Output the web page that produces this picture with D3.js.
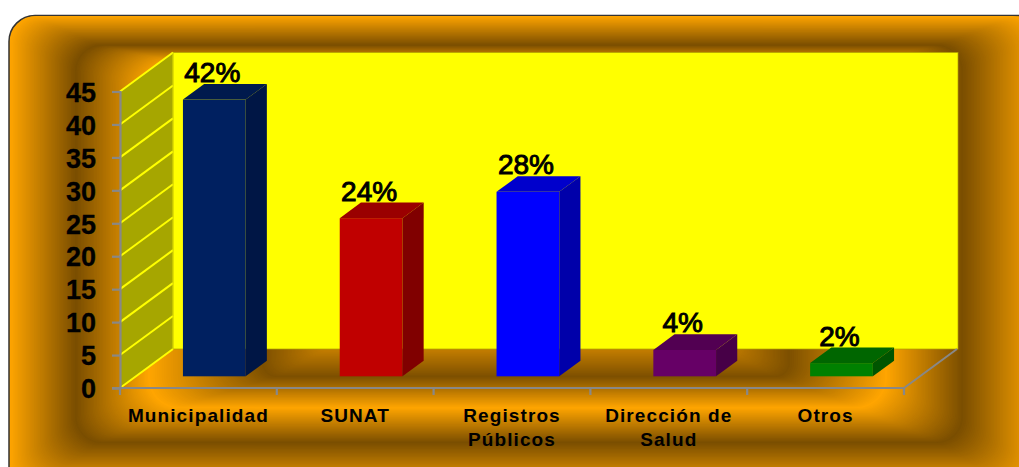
<!DOCTYPE html>
<html><head><meta charset="utf-8">
<script src="https://cdnjs.cloudflare.com/ajax/libs/d3/7.8.5/d3.min.js"></script>
<style>html,body{margin:0;background:#fff}svg{display:block}text{font-family:"Liberation Sans",Arial,sans-serif;fill:#000}</style>
</head><body><svg id="c" width="1019" height="467"></svg>
<script>
const categories = [["Municipalidad"],["SUNAT"],["Registros","Públicos"],["Dirección de","Salud"],["Otros"]];
const values = [42,24,28,4,2];
const valueLabels = ["42%","24%","28%","4%","2%"];
const frontColors = ["#002060","#c00000","#0000ff","#660066","#008000"];
const topColors   = ["#001a4d","#9a0000","#0000cc","#520052","#006600"];
const sideColors  = ["#001645","#800000","#0000aa","#470047","#005500"];
const yTicks = [0,5,10,15,20,25,30,35,40,45];

const svg = d3.select("#c");
// background bands: [x0,y0,x1,y1,radius,color]
const stops = [
  [9,15.5,1040,490,26,"#ffa500"],
  [75,45,963,443,26,"#7a4e00"],
  [148,62,887,408,30,"#ffa500"],
  [262,100,790,377,14,"#7d5000"],
  [330,150,720,345,6,"#d08600"]
];
const bg = svg.append("g");
bg.append("rect").attr("x",9).attr("y",15.5).attr("width",1040).attr("height",490).attr("rx",26)
  .attr("fill","#ffa500").attr("stroke","#333").attr("stroke-width",1.5);
for(let s=0;s<stops.length-1;s++){
  const a=stops[s],b=stops[s+1],n=50,col=d3.interpolateRgb(a[5],b[5]);
  d3.range(1,n+1).forEach(i=>{
    const t=i/n,L=d3.interpolateNumber;
    const x0=L(a[0],b[0])(t),y0=L(a[1],b[1])(t),x1=L(a[2],b[2])(t),y1=L(a[3],b[3])(t);
    bg.append("rect").attr("x",x0).attr("y",y0).attr("width",x1-x0).attr("height",y1-y0)
      .attr("rx",L(a[4],b[4])(t)).attr("fill",col(t));
  });
}

const y = d3.scaleLinear().domain([0,45]).range([388,91.5]);
const x = d3.scaleBand().domain(d3.range(categories.length)).range([120,904]).paddingInner(0).paddingOuter(0);
const dx=53, dy=-39;
const barW = x.bandwidth()*0.4;
const pt = p=>p.join(",");

// back wall
svg.append("rect").attr("x",x.range()[0]+dx).attr("y",y(45)+dy).attr("width",x.range()[1]-x.range()[0]+1)
  .attr("height",y(0)-y(45)).attr("fill","#ffff00").attr("stroke","#b0a000").attr("stroke-width",.7);
// side wall
svg.append("polygon").attr("points",[[120,y(45)],[120+dx,y(45)+dy],[120+dx,y(0)+dy],[120,y(0)]].map(pt).join(" "))
  .attr("fill","#a6a600");
yTicks.forEach(v=>{
  svg.append("line").attr("x1",120).attr("y1",y(v)).attr("x2",120+dx).attr("y2",y(v)+dy)
    .attr("stroke","#ffff00").attr("stroke-width",2);
});
svg.append("line").attr("x1",120+dx).attr("x2",120+dx).attr("y1",y(45)+dy).attr("y2",y(0)+dy).attr("stroke","#e0e000").attr("stroke-width",1);

// floor outline
svg.append("line").attr("x1",904).attr("y1",y(0)).attr("x2",904+dx).attr("y2",y(0)+dy).attr("stroke","#888").attr("stroke-width",2);

// axes
const gy = svg.append("g").attr("transform","translate(120,0)")
  .call(d3.axisLeft(y).tickValues(yTicks).tickSize(8).tickPadding(16));
gy.selectAll("text").attr("font-size",27).attr("font-weight","bold").attr("dy","0.36em").attr("stroke","#000").attr("stroke-width",.3);
gy.selectAll("line,path").attr("stroke","#888").attr("stroke-width",2.2);
const gx = svg.append("g").attr("transform","translate(0,388)");
gx.append("line").attr("x1",112).attr("x2",904).attr("stroke","#888").attr("stroke-width",2.2);
d3.range(categories.length+1).forEach(i=>{
  const xx = 120+i*x.step();
  gx.append("line").attr("x1",xx).attr("x2",xx).attr("y1",0).attr("y2",7).attr("stroke","#888").attr("stroke-width",2.2);
});

// bars
const fx = 0.3, bx = 0.7;
values.forEach((v,i)=>{
  const xl = x(i)+(x.bandwidth()-barW)/2 + dx*fx;
  const xr = xl+barW;
  const yb = y(0)+dy*fx, yt = y(v)+dy*fx;
  const ddx = dx*(bx-fx), ddy = dy*(bx-fx);
  svg.append("rect").attr("x",xl).attr("y",yt).attr("width",barW).attr("height",yb-yt).attr("fill",frontColors[i]);
  svg.append("polygon").attr("points",[[xl,yt],[xl+ddx,yt+ddy],[xr+ddx,yt+ddy],[xr,yt]].map(pt).join(" ")).attr("fill",topColors[i]);
  svg.append("polygon").attr("points",[[xr,yt],[xr+ddx,yt+ddy],[xr+ddx,yb+ddy],[xr,yb]].map(pt).join(" ")).attr("fill",sideColors[i]);
  svg.append("text").attr("x",(xl+xr)/2-2).attr("y",yt+ddy-2).attr("text-anchor","middle")
    .attr("font-size",28).attr("stroke","#000").attr("stroke-width",1).text(valueLabels[i]);
});

// category labels
categories.forEach((lines,i)=>{
  const t = svg.append("text").attr("text-anchor","middle").attr("font-size",19).attr("font-weight","bold").attr("letter-spacing",1.1);
  lines.forEach((s,j)=>t.append("tspan").attr("x",x(i)+x.bandwidth()/2).attr("y",422+j*24).text(s));
});
</script></body></html>
